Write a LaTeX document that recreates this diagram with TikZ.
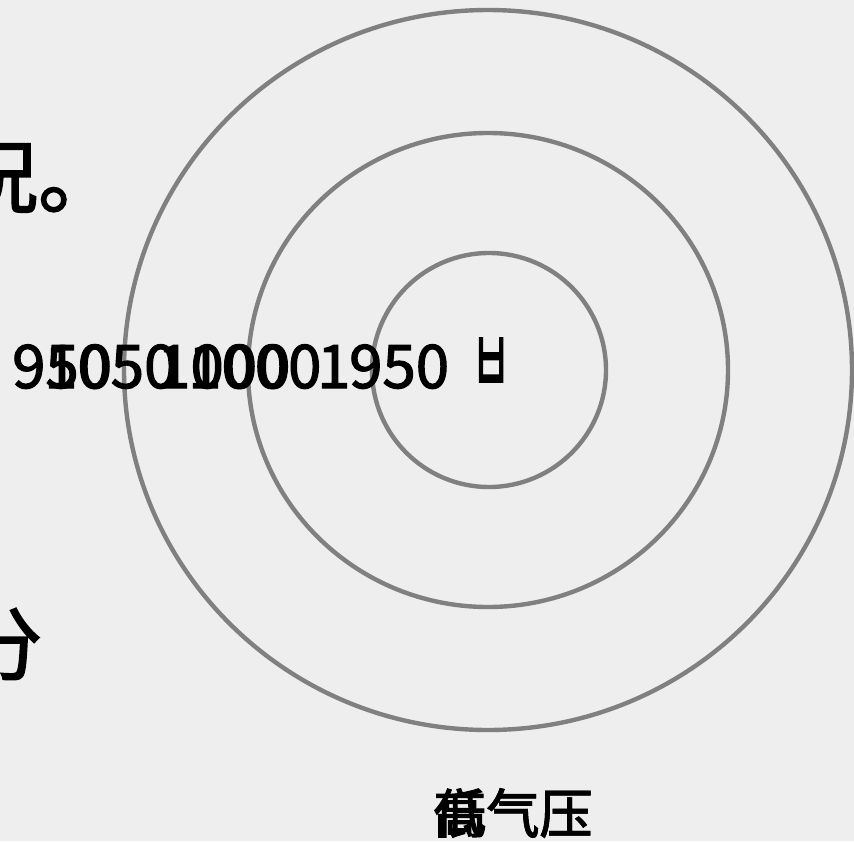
\documentclass[tikz,border=0pt]{standalone}
\usepackage{fontspec}
\setmainfont{Noto Sans CJK SC}
\newfontfamily\cjk[FakeBold=2]{Noto Sans CJK SC}
\definecolor{bgc}{RGB}{238,238,238}
\definecolor{ringc}{RGB}{128,128,128}
\tikzset{
  ring/.style={draw=ringc, line width=4.4pt},
  num/.style={inner sep=0pt, anchor=base west, font=\cjk\fontsize{60}{60}\selectfont},
  big/.style={inner sep=0pt, anchor=base west, font=\cjk\fontsize{80}{80}\selectfont},
  lbl/.style={inner sep=0pt, anchor=center, font=\cjk\fontsize{53}{53}\selectfont}
}
\begin{document}
\begin{tikzpicture}[x=1pt,y=-1pt]
\fill[bgc] (0,0) rectangle (854,841);
\useasboundingbox (0,0) rectangle (854,841);
% rings
\draw[ring] (488,370) ellipse [x radius=364, y radius=360];
\draw[ring] (488,370) ellipse [x radius=240, y radius=237];
\draw[ring] (489,370) ellipse [x radius=117, y radius=117];
% left slide text (clipped)
\node[big] (t1) at (-42,207) {况。};
\node[big] (t2) at (-38,674) {分};
% overlapping labels
\node[num] (n1) at (12,388) {950};
\node[num] (n2) at (44,388) {1050};
\node[num] (n3) at (157,388) {1000};
\node[num] (n4) at (188,388) {1000};
\node[num] (n5) at (317,388) {1};
\node[num] (n6) at (349,388) {950};
\node[inner sep=0pt, font=\cjk\fontsize{60}{60}\selectfont] (n7) at (491,366) {\scalebox{0.7}[1.5]{ㅂ}};
% bottom label
\node[lbl] (b1) at (513,813) {高气压};
\node[lbl] (b2) at (513,813) {低气压};
\end{tikzpicture}
\end{document}
